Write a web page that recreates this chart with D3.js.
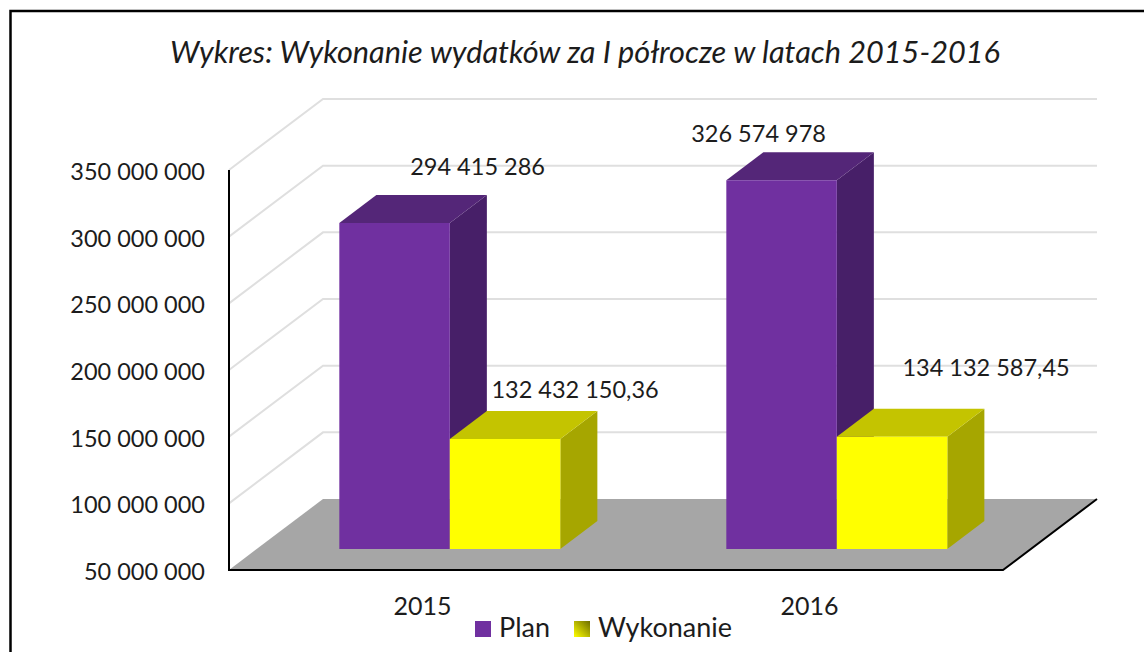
<!DOCTYPE html>
<html lang="pl">
<head>
  <meta charset="UTF-8">
  <title>Wykonanie wydatków</title>
  <script src="https://d3js.org/d3.v7.min.js"></script>
  <style>
    body { margin: 0; background: #fff; }
    text { font-family: Lato, "Open Sans", sans-serif; fill: #1c1c1c; }
  </style>
</head>
<body>
  <div id="root"></div>
  <script>
    const years = ['2015', '2016']
    const seriesNames = ['Plan', 'Wykonanie']
    const planValues = [294415286, 326574978]
    const execValues = [132432150.36, 134132587.45]
    const tickValues = [50000000, 100000000, 150000000, 200000000, 250000000, 300000000, 350000000]

    const colors = {
      Plan: { front: '#7030a0', top: '#542678', side: '#471f68' },
      Wykonanie: { front: '#ffff00', top: '#c4c400', side: '#a6a600' }
    }

    const svg = d3.select('#root')
      .append('svg')
      .attr('width', 1144)
      .attr('height', 652)
      .style('display', 'block')

    // front plane scales, depth is handled by project()
    const x = d3.scaleBand().domain(years).range([229, 1003])
    const xSeries = d3.scaleBand().domain(seriesNames).range([-111, 110])
    const y = d3.scaleLinear().domain([50000000, 350000000]).range([570, 170])
    const depthX = 94
    const depthY = -71
    const barZ0 = 0.296
    const barZ1 = 0.69

    const project = (px, value, z) => [px + z * depthX, y(value) + z * depthY]
    const line = d3.line()

    // frame
    svg.append('path')
      .attr('d', 'M10.5,652V11H1144')
      .attr('fill', 'none')
      .attr('stroke', '#000')
      .attr('stroke-width', 2.5)

    svg.append('text')
      .attr('x', 585)
      .attr('y', 63)
      .attr('text-anchor', 'middle')
      .style('font-size', '30.7px')
      .style('font-style', 'italic')
      .text('Wykres: Wykonanie wydatków za I półrocze w latach 2015-2016')

    // walls
    svg.append('g')
      .selectAll('path')
      .data(tickValues.slice(1))
      .enter()
      .append('path')
      .attr('d', d => line([
        project(x.range()[0], d, 0),
        project(x.range()[0], d, 1),
        project(x.range()[1], d, 1)
      ]))
      .attr('fill', 'none')
      .attr('stroke', '#dfdfdf')
      .attr('stroke-width', 2)

    // floor
    const floorValue = tickValues[0]
    svg.append('path')
      .attr('d', line([
        project(x.range()[0], floorValue, 0),
        project(x.range()[1], floorValue, 0),
        project(x.range()[1], floorValue, 1),
        project(x.range()[0], floorValue, 1)
      ]) + 'Z')
      .attr('fill', '#a6a6a6')

    svg.append('path')
      .attr('d', line([
        project(x.range()[0], 350000000, 0),
        project(x.range()[0], floorValue, 0),
        project(x.range()[1], floorValue, 0),
        project(x.range()[1], floorValue, 1)
      ]))
      .attr('fill', 'none')
      .attr('stroke', '#000')
      .attr('stroke-width', 2)

    // bars
    const bars = []
    years.forEach((year, i) => {
      bars.push({ year, name: 'Plan', value: planValues[i] })
      bars.push({ year, name: 'Wykonanie', value: execValues[i] })
    })

    const faces = [
      { key: 'side', pts: (l, r, v) => [project(r, floorValue, barZ0), project(r, floorValue, barZ1), project(r, v, barZ1), project(r, v, barZ0)] },
      { key: 'top', pts: (l, r, v) => [project(l, v, barZ0), project(r, v, barZ0), project(r, v, barZ1), project(l, v, barZ1)] },
      { key: 'front', pts: (l, r, v) => [project(l, floorValue, barZ0), project(r, floorValue, barZ0), project(r, v, barZ0), project(l, v, barZ0)] }
    ]

    const barGroup = svg.append('g')
      .selectAll('g')
      .data(bars)
      .enter()
      .append('g')

    faces.forEach(face => {
      barGroup.append('path')
        .attr('d', d => {
          const left = x(d.year) + x.bandwidth() / 2 + xSeries(d.name)
          return line(face.pts(left, left + xSeries.bandwidth(), d.value)) + 'Z'
        })
        .attr('fill', d => colors[d.name][face.key])
    })

    // value labels were moved by hand in the original, so they keep an offset from the bar top
    const labelOffsets = [[83, -56], [70, -49], [-23, -46], [94, -69]]
    const plLocale = d3.formatLocale({ decimal: ',', thousands: ' ', grouping: [3], currency: ['', ' zł'] })

    svg.append('g')
      .selectAll('text')
      .data(bars)
      .enter()
      .append('text')
      .attr('x', d => x(d.year) + x.bandwidth() / 2 + xSeries(d.name) + xSeries.bandwidth() / 2 + barZ0 * depthX)
      .attr('y', d => y(d.value) + barZ0 * depthY)
      .attr('dx', (d, i) => labelOffsets[i][0])
      .attr('dy', (d, i) => labelOffsets[i][1] + 8)
      .attr('text-anchor', 'middle')
      .style('font-size', '23.5px')
      .text(d => plLocale.format(d.name === 'Plan' ? ',.0f' : ',.2f')(d.value))

    // axes
    const yAxis = d3.axisLeft(y)
      .tickValues(tickValues)
      .tickSize(0)
      .tickPadding(24)
      .tickFormat(plLocale.format(',.0f'))

    const yAxisG = svg.append('g')
      .attr('transform', 'translate(229,2)')
      .call(yAxis)
    yAxisG.attr('font-family', null).attr('font-size', null)
    yAxisG.select('.domain').remove()
    yAxisG.selectAll('text').style('font-size', '23.5px')

    const xAxis = d3.axisBottom(x).tickSize(0).tickPadding(27)
    const xAxisG = svg.append('g')
      .attr('transform', 'translate(0,570)')
      .call(xAxis)
    xAxisG.attr('font-family', null).attr('font-size', null)
    xAxisG.select('.domain').remove()
    xAxisG.selectAll('text').style('font-size', '25px')

    // legend
    const grad = svg.append('defs').append('linearGradient')
      .attr('id', 'execSwatch')
      .attr('x1', '0').attr('y1', '1').attr('x2', '1').attr('y2', '0')
    grad.append('stop').attr('offset', '0').attr('stop-color', '#ffff00')
    grad.append('stop').attr('offset', '1').attr('stop-color', '#6e6e00')

    const legendX = d3.scaleOrdinal().domain(seriesNames).range([475, 574])
    const legend = svg.append('g')
      .selectAll('g')
      .data(seriesNames)
      .enter()
      .append('g')
      .attr('transform', d => `translate(${legendX(d)},621)`)

    legend.append('rect')
      .attr('width', 16)
      .attr('height', 16)
      .attr('fill', d => d === 'Plan' ? colors.Plan.front : 'url(#execSwatch)')

    legend.append('text')
      .attr('x', 24)
      .attr('y', 16)
      .style('font-size', '27px')
      .text(d => d)
  </script>
</body>
</html>
